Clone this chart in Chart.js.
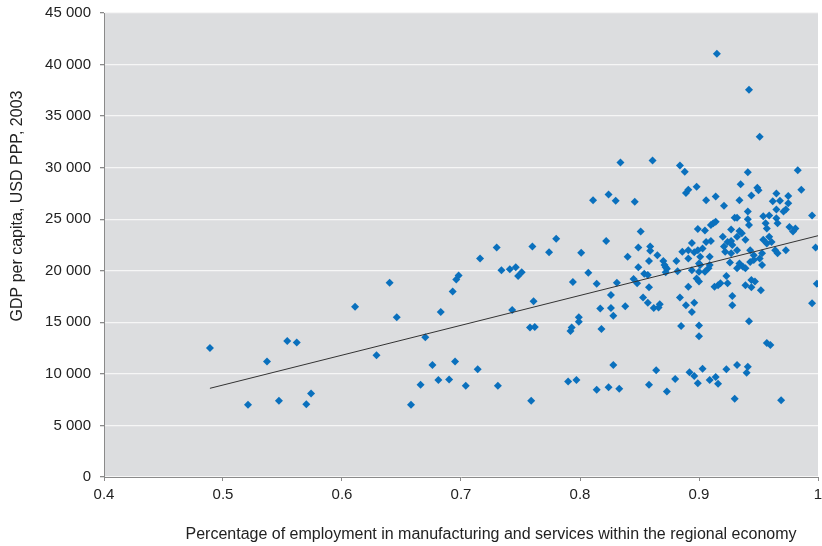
<!DOCTYPE html>
<html>
<head>
<meta charset="utf-8">
<script src="https://cdn.jsdelivr.net/npm/chart.js@4"></script>
<style>
  body { margin: 0; background: #fff; }
  #wrap { width: 822px; height: 546px; }
</style>
</head>
<body>
<div id="wrap"><canvas id="chart" width="822" height="546"></canvas></div>
<script>
// employment share (x) and GDP per capita (y)
const shareX = [
  0.489, 0.521, 0.547, 0.537, 0.554, 0.562, 0.570, 0.574, 0.611, 0.629,
  0.640, 0.646, 0.670, 0.658, 0.666, 0.676, 0.681, 0.690, 0.695, 0.683,
  0.693, 0.696, 0.698, 0.704, 0.714, 0.716, 0.730, 0.734, 0.731, 0.741,
  0.746, 0.748, 0.751, 0.743, 0.758, 0.762, 0.760, 0.761, 0.759, 0.774,
  0.780, 0.794, 0.792, 0.793, 0.790, 0.797, 0.799, 0.799, 0.801,
  0.834, 0.861, 0.884, 0.888, 0.811, 0.824, 0.830, 0.846, 0.889, 0.891,
  0.898, 0.899, 0.851, 0.822, 0.849, 0.859, 0.859, 0.840, 0.858, 0.865,
  0.849, 0.870, 0.871, 0.872, 0.881, 0.886, 0.891, 0.894, 0.891, 0.896,
  0.807, 0.814, 0.831, 0.845, 0.848, 0.854, 0.857, 0.858, 0.826, 0.853,
  0.872, 0.873, 0.882, 0.891, 0.884,
  0.817, 0.826, 0.828, 0.838, 0.857, 0.862, 0.866, 0.867, 0.889, 0.894,
  0.896, 0.818, 0.885, 0.900, 0.900, 0.828, 0.864, 0.814, 0.824, 0.833,
  0.858, 0.873, 0.880, 0.892, 0.896, 0.899,
  0.915, 0.942, 0.951, 0.941, 0.983,
  0.935, 0.949, 0.950, 0.906, 0.914, 0.934, 0.944, 0.921, 0.965, 0.962,
  0.968, 0.975, 0.975, 0.973, 0.971, 0.965, 0.986, 0.941, 0.930, 0.932,
  0.954, 0.959, 0.914, 0.912, 0.910, 0.905, 0.941, 0.942, 0.956, 0.957,
  0.965, 0.966, 0.976, 0.981, 0.979, 0.995, 0.998, 0.927, 0.934, 0.932,
  0.936, 0.939, 0.920, 0.924, 0.927, 0.928, 0.906, 0.910, 0.954, 0.957,
  0.959, 0.961, 0.921, 0.922, 0.927, 0.932, 0.899, 0.903, 0.909, 0.901,
  0.943, 0.946, 0.953, 0.951, 0.964, 0.966, 0.973,
  0.900, 0.901, 0.909, 0.908, 0.905, 0.926, 0.934, 0.937, 0.939, 0.932,
  0.943, 0.946, 0.953, 0.894, 0.900, 0.898, 0.900, 0.923, 0.924, 0.913,
  0.916, 0.918, 0.939, 0.944, 0.947, 0.944, 0.952, 0.928, 0.928, 0.999,
  0.995, 0.942,
  0.957, 0.960, 0.903, 0.909, 0.914, 0.916, 0.923, 0.932, 0.941, 0.940,
  0.930, 0.969
]
const gdpY = [
  12500, 7000, 7400, 11200, 13200, 13050, 7050, 8100, 16500, 11800,
  18850, 15500, 13550, 7000, 8950, 10850, 9400, 9450, 11200, 16000,
  18000, 19150, 19550, 8850, 10450, 21200, 22250, 20050, 8850, 20150,
  20350, 19500, 19850, 16200, 14500, 14550, 22350, 17050, 7400, 21800,
  23100, 18900, 14150, 14500, 9250, 9400, 15500, 15050, 21750,
  30500, 30700, 30200, 29600, 26850, 27400, 26800, 26700, 27550, 27850,
  28150, 24050, 23800, 22900, 22250, 22350, 21950, 21350, 20950, 21500,
  20350, 20950, 20550, 20350, 20950, 21850, 22000, 22700, 21200, 21800,
  19800, 18750, 18850, 19200, 18800, 19700, 19600, 18400, 17650, 17400,
  19850, 20200, 19950, 18450, 17400,
  16350, 16400, 15650, 16550, 16900, 16400, 16450, 16750, 16650, 16000,
  16900, 14350, 14650, 14700, 13650, 10850, 10350, 8450, 8700, 8550,
  8950, 8300, 9500, 10150, 9800, 9100,
  41050, 37550, 33000, 29550, 29750,
  28400, 28050, 27800, 26850, 27200, 26850, 27300, 26300, 27500, 26750,
  26800, 27250, 26550, 25950, 25750, 25950, 27850, 25750, 25150, 25150,
  25300, 25350, 24750, 24600, 24450, 23900, 25000, 24450, 24600, 24100,
  25100, 24600, 24250, 24100, 23800, 25350, 22250, 24000, 23850, 23300,
  23650, 23000, 23300, 22800, 22900, 22500, 22800, 22900, 23000, 22650,
  23300, 22800, 22350, 21850, 21700, 22000, 22000, 22150, 21350, 21350,
  22000, 21500, 21700, 21200, 22000, 21700, 22000,
  20700, 20550, 20550, 20250, 19900, 20800, 20700, 20400, 20250, 20250,
  20850, 21050, 20550, 20050, 19900, 19250, 18950, 19500, 18800, 18450,
  18600, 18800, 18600, 19100, 18950, 18400, 18100, 17550, 16650, 18750,
  16850, 15100,
  13000, 12800, 10500, 9400, 9700, 9050, 10450, 10850, 10700, 10100,
  7600, 7450
]
// fitted line ends as drawn in the picture
const trendX = [0.489, 1.0]
const trendY = [8600, 23400]

const xTicks = [0.4, 0.5, 0.6, 0.7, 0.8, 0.9, 1]
const xTitle = 'Percentage of employment in manufacturing and services within the regional economy'
const yTitle = 'GDP per capita, USD PPP, 2003'

const points = shareX.map((x, i) => ({ x: x, y: gdpY[i] }))
const trend = trendX.map((x, i) => ({ x: x, y: trendY[i] }))

const plotBg = {
  id: 'plotBg',
  beforeDraw(chart) {
    const { ctx, chartArea: a } = chart
    ctx.save()
    ctx.fillStyle = '#dcdddf'
    ctx.fillRect(a.left, a.top, a.right - a.left, a.bottom - a.top)
    ctx.restore()
  }
}

// axis titles sit off-centre in the original, so they are placed by hand
const axisTitles = {
  id: 'axisTitles',
  afterDraw(chart) {
    const ctx = chart.ctx
    ctx.save()
    ctx.fillStyle = '#222'
    ctx.font = '16px "Liberation Sans"'
    ctx.textAlign = 'center'
    ctx.textBaseline = 'middle'
    ctx.fillText(xTitle, 491, 535)
    ctx.translate(18, 206)
    ctx.rotate(-Math.PI / 2)
    ctx.fillText(yTitle, 0, 0)
    ctx.restore()
  }
}

const fmt = v => v >= 1000 ? Math.floor(v / 1000) + ' 000' : String(v)

new Chart(document.getElementById('chart'), {
  type: 'scatter',
  data: {
    datasets: [{
      data: points,
      pointStyle: 'rectRot',
      pointRadius: 4,
      backgroundColor: '#0a70bd',
      borderColor: '#0a70bd',
      borderWidth: 0,
      order: 1
    }, {
      type: 'line',
      data: trend,
      borderColor: '#333',
      borderWidth: 1,
      pointRadius: 0,
      fill: false,
      order: 0
    }]
  },
  options: {
    responsive: false,
    animation: false,
    layout: { padding: { top: 13, right: 0, left: 0, bottom: 0 } },
    plugins: { legend: { display: false }, tooltip: { enabled: false } },
    scales: {
      x: {
        type: 'linear',
        min: 0.4,
        max: 1,
        afterBuildTicks: s => { s.ticks = xTicks.map(v => ({ value: v })) },
        afterFit: s => { s.height = 69; s.paddingLeft = 0; s.paddingRight = 0 },
        border: { color: '#8a8a8a', width: 1 },
        grid: { drawOnChartArea: false, drawTicks: true, tickLength: 4, tickColor: '#8a8a8a' },
        ticks: { color: '#222', padding: 5, font: { family: 'Liberation Sans', size: 15 },
          callback: v => String(v) }
      },
      y: {
        min: 0,
        max: 45000,
        afterFit: s => { s.width = 104; s.paddingTop = 0; s.paddingBottom = 0 },
        border: { color: '#8a8a8a', width: 1 },
        grid: { color: '#f6f6f6', lineWidth: 1.3, tickLength: 4, tickColor: '#8a8a8a' },
        ticks: { stepSize: 5000, color: '#222', padding: 9, font: { family: 'Liberation Sans', size: 15 },
          callback: v => fmt(v) }
      }
    }
  },
  plugins: [plotBg, axisTitles]
})
</script>
</body>
</html>
